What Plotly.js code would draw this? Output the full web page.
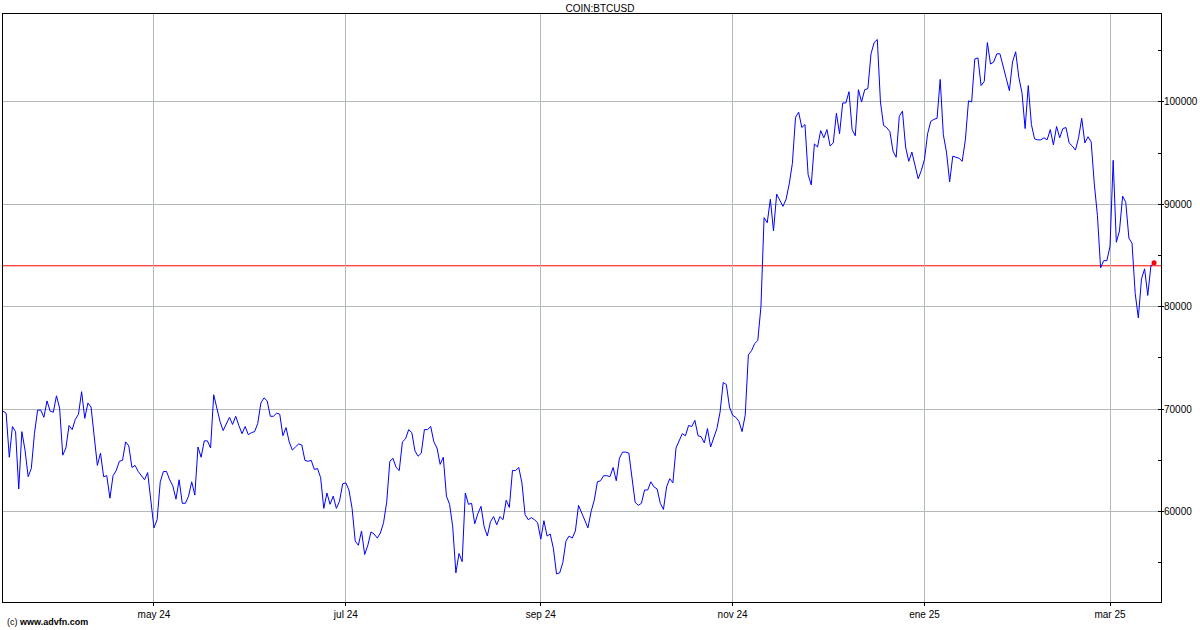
<!DOCTYPE html>
<html>
<head>
<meta charset="utf-8">
<script src="https://cdn.plot.ly/plotly-3.0.1.min.js"></script>
<style>
  html, body { margin: 0; padding: 0; background: #ffffff; }
  #chart { width: 1200px; height: 630px; }
</style>
</head>
<body>
<div id="chart"></div>
<script>
// Daily BTC/USD closes, one array per month
const mar24 = [69800, 69600, 65300, 68300, 67800, 62200, 67800, 66000, 63400, 64200, 67600, 69900, 69900, 69200, 70800, 69800, 69700, 71300];
const apr24 = [70100, 65500, 66200, 68400, 68000, 69000, 69500, 71700, 69100, 70600, 70200, 67300, 64500, 65700, 63400, 63500, 61300, 63500, 64000, 64900, 65000, 66800, 66400, 64300, 64500, 63900, 63500, 63100, 63800, 60800];
const may24 = [58400, 59200, 62900, 63900, 63900, 63100, 62500, 61200, 63100, 60800, 60800, 61500, 62900, 61600, 66300, 65300, 66900, 66900, 66200, 71400, 70000, 68800, 67900, 68600, 69200, 68500, 69300, 68400, 67600, 68300, 67500];
const jun24 = [67700, 67800, 68600, 70600, 71100, 70800, 69300, 69300, 69600, 69500, 67400, 68200, 66800, 66000, 66300, 66600, 66500, 65000, 64900, 65000, 64100, 64200, 63300, 60300, 61800, 60700, 61500, 60300, 61000, 62700];
const jul24 = [62800, 62100, 60300, 57100, 56700, 58100, 55800, 56700, 58000, 57800, 57400, 57900, 58900, 60900, 64900, 65200, 64300, 64000, 66800, 67100, 68000, 67700, 65900, 65400, 65700, 68000, 68000, 68300, 66800, 66200, 64600];
const aug24 = [65300, 61500, 60700, 58500, 54000, 55900, 55100, 61800, 60700, 60800, 58800, 59800, 60500, 58500, 57600, 59000, 59500, 58700, 59500, 59200, 61100, 60400, 64000, 64000, 64300, 62800, 59700, 59200, 59400, 59200, 58900];
const sep24 = [57300, 59100, 57600, 57800, 56400, 53900, 54000, 55000, 57100, 57600, 57400, 58100, 60600, 59900, 59200, 58400, 60000, 61100, 62900, 63000, 63500, 63500, 63400, 64300, 63000, 65200, 65800, 65800, 65700, 63100];
const oct24 = [60900, 60600, 60800, 62100, 62100, 62900, 62400, 62200, 60800, 60200, 62400, 63200, 62800, 66200, 67000, 67600, 67400, 68400, 68300, 68900, 67400, 67300, 66700, 68100, 66300, 67100, 68100, 69700, 72600, 72400, 70200];
const nov24 = [69400, 69200, 68800, 67800, 69400, 75300, 75700, 76400, 76700, 80000, 88700, 88200, 90500, 87400, 91000, 90400, 89800, 90500, 92000, 94000, 98500, 99000, 97500, 97800, 92900, 91900, 95900, 95600, 97200, 96500];
const dec24 = [97300, 95700, 96000, 98900, 96900, 99900, 99900, 101000, 97300, 96700, 101200, 100000, 101200, 101300, 104700, 105800, 106100, 100000, 97700, 97500, 97100, 95200, 94600, 98600, 99100, 95600, 94200, 95100, 93700, 92500, 93300];
const jan25 = [94400, 96900, 98100, 98300, 98400, 102200, 96800, 95100, 92200, 94700, 94600, 94500, 94200, 96300, 100100, 100000, 104200, 104300, 101600, 102000, 105800, 103700, 103900, 104700, 104700, 103600, 102300, 101100, 103900, 104900, 102400];
const feb25 = [100900, 97400, 101600, 97800, 96400, 96300, 96300, 96500, 96300, 97300, 95800, 97600, 96500, 97400, 97500, 96000, 95700, 95300, 96500, 98400, 96000, 96600, 96100, 92000, 88900, 83800, 84500, 84500];
const mar25 = [85900, 94300, 86300, 87400, 90800, 90200, 86700, 86200, 81300, 78900, 82700, 83700, 81100, 84000, 84300];

// month key, first day of month present, values
const monthBlocks = [
  ['2024-03', 14, mar24], ['2024-04', 1, apr24], ['2024-05', 1, may24], ['2024-06', 1, jun24],
  ['2024-07', 1, jul24], ['2024-08', 1, aug24], ['2024-09', 1, sep24], ['2024-10', 1, oct24],
  ['2024-11', 1, nov24], ['2024-12', 1, dec24], ['2025-01', 1, jan25], ['2025-02', 1, feb25],
  ['2025-03', 1, mar25]
];

const priceLevel = 84000;   // red reference line
const xTickVals = ['2024-05-01', '2024-07-01', '2024-09-01', '2024-11-01', '2025-01-01', '2025-03-01'];
const xTickText = ['may 24', 'jul 24', 'sep 24', 'nov 24', 'ene 25', 'mar 25'];
const yTickVals = [60000, 70000, 80000, 90000, 100000];
const yTickText = ['60000', '70000', '80000', '90000', '100000'];

const dates = [], prices = [];
monthBlocks.forEach(([ym, d0, vals]) => {
  vals.forEach((v, i) => {
    dates.push(ym + '-' + String(d0 + i).padStart(2, '0'));
    prices.push(v);
  });
});

const FONT = 'Liberation Sans, Arial, sans-serif';
const GRID = '#b3b9b9';

const traces = [
  {
    type: 'scatter', mode: 'lines', x: dates, y: prices,
    line: { color: '#0000ff', width: 1 }, hoverinfo: 'skip', showlegend: false
  },
  {
    type: 'scatter', mode: 'markers',
    x: [dates[dates.length - 1]], y: [prices[prices.length - 1]],
    marker: { color: '#ff0000', size: 5 }, hoverinfo: 'skip', showlegend: false
  }
];

const layout = {
  width: 1200, height: 630,
  margin: { l: 3, r: 39, t: 14, b: 28, pad: 0 },
  paper_bgcolor: '#ffffff', plot_bgcolor: '#ffffff',
  font: { family: FONT, size: 10, color: '#000000' },
  showlegend: false,
  title: {
    text: 'COIN:BTCUSD', x: 0.5, xanchor: 'center', xref: 'container',
    y: 1 - 8 / 630, yanchor: 'middle', yref: 'container',
    font: { family: FONT, size: 10, color: '#000000' }
  },
  xaxis: {
    type: 'date',
    range: ['2024-03-14 00:00', '2025-03-17 05:00'],
    tickvals: xTickVals, ticktext: xTickText,
    showgrid: true, gridcolor: GRID, gridwidth: 1,
    showline: true, linecolor: '#000000', linewidth: 1, mirror: true,
    ticks: 'outside', ticklen: 3, tickcolor: '#000000', tickwidth: 1,
    tickfont: { family: FONT, size: 10, color: '#000000' },
    zeroline: false, automargin: false, fixedrange: true
  },
  yaxis: {
    side: 'right',
    range: [51160, 108590],
    tickvals: yTickVals, ticktext: yTickText,
    showgrid: true, gridcolor: GRID, gridwidth: 1,
    showline: true, linecolor: '#000000', linewidth: 1, mirror: true,
    ticks: 'outside', ticklen: 2, tickcolor: '#000000', tickwidth: 1,
    ticklabelstandoff: -2,
    minor: { ticks: 'inside', ticklen: 3, dtick: 5000, tick0: 0, tickcolor: '#000000', showgrid: false },
    tickfont: { family: FONT, size: 10, color: '#000000' },
    zeroline: false, automargin: false, fixedrange: true
  },
  shapes: [
    {
      type: 'line', xref: 'paper', x0: 0, x1: 1, yref: 'y', y0: priceLevel, y1: priceLevel,
      line: { color: '#ff0000', width: 1 }, layer: 'below'
    }
  ],
  annotations: [
    {
      text: '(c) <b>www.advfn.com</b>', xref: 'paper', yref: 'paper',
      x: 2 / 1158, y: -20 / 588, xanchor: 'left', yanchor: 'middle',
      showarrow: false, font: { family: FONT, size: 9, color: '#000000' }
    }
  ]
};

Plotly.newPlot('chart', traces, layout, { staticPlot: true, displayModeBar: false });
</script>
</body>
</html>
